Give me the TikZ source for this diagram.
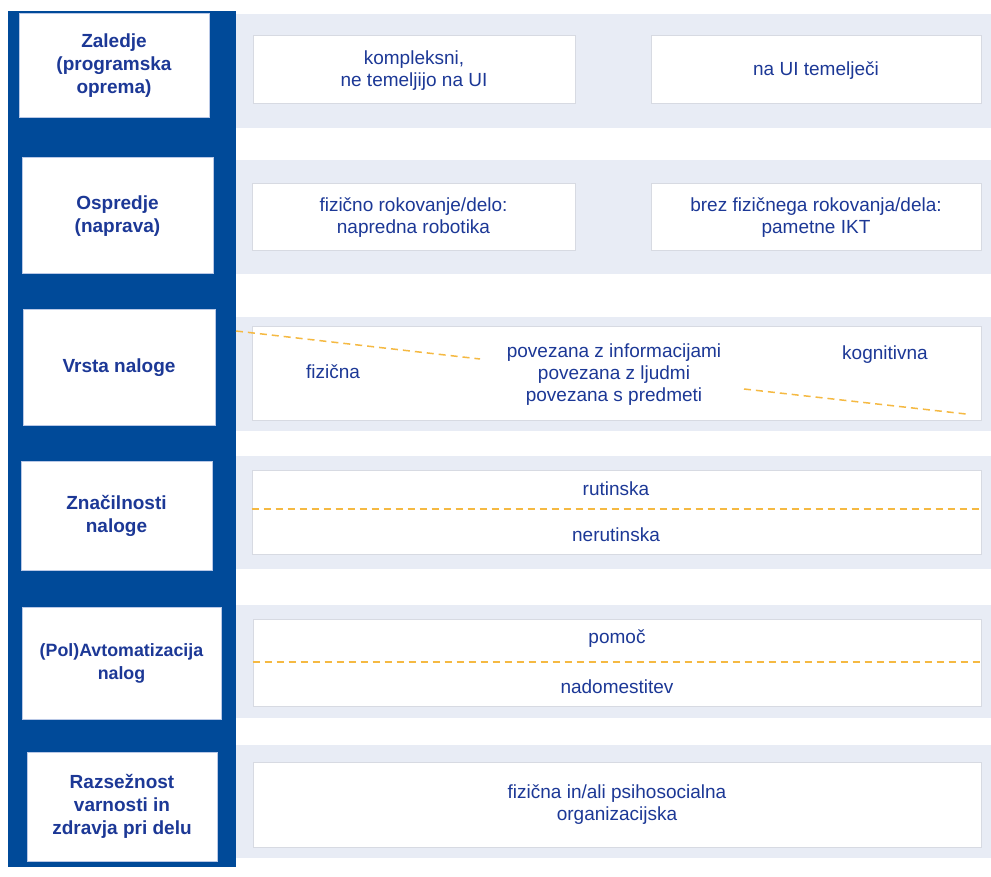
\documentclass[tikz,border=0pt]{standalone}
\usepackage{fontspec}
\setmainfont{Liberation Sans}
\definecolor{barblue}{RGB}{0,74,153}
\definecolor{txtblue}{RGB}{28,56,150}
\definecolor{bandc}{RGB}{232,236,245}
\definecolor{boxline}{RGB}{215,218,226}
\definecolor{lblline}{RGB}{185,200,230}
\definecolor{dashc}{RGB}{245,185,66}
\begin{document}
\begin{tikzpicture}[x=1pt,y=-1pt,
  lbl/.style={draw=lblline, line width=1pt, fill=white, text=txtblue, inner sep=0pt,
    font=\fontsize{19}{23}\selectfont\bfseries, align=center},
  bandbox/.style={fill=bandc, draw=none, inner sep=0pt},
  cell/.style={draw=boxline, line width=1pt, fill=white, inner sep=0pt},
  txt/.style={text=txtblue, font=\fontsize{19}{22}\selectfont, align=center, inner sep=0pt},
  dsh/.style={draw=dashc, line width=1.5pt, dash pattern=on 7pt off 5pt}]
\useasboundingbox (0,0) rectangle (991,877);
\fill[white] (0,0) rectangle (991,877);
% blue bar
\node[fill=barblue, inner sep=0pt, minimum width=228pt, minimum height=856pt] (bar) at (122,439) {};
% bands
\node[bandbox, minimum width=755pt, minimum height=114pt] (b1) at (613.5,71) {};
\node[bandbox, minimum width=755pt, minimum height=114pt] (b2) at (613.5,217) {};
\node[bandbox, minimum width=755pt, minimum height=114pt] (b3) at (613.5,374) {};
\node[bandbox, minimum width=755pt, minimum height=113pt] (b4) at (613.5,512.5) {};
\node[bandbox, minimum width=755pt, minimum height=113pt] (b5) at (613.5,661.5) {};
\node[bandbox, minimum width=755pt, minimum height=113pt] (b6) at (613.5,801.5) {};
% cells
\node[cell, minimum width=322pt, minimum height=68pt] (c1a) at (414,70) {};
\node[cell, minimum width=330pt, minimum height=68pt] (c1b) at (816,70) {};
\node[cell, minimum width=323pt, minimum height=67pt] (c2a) at (413.5,217.5) {};
\node[cell, minimum width=330pt, minimum height=67pt] (c2b) at (816,217.5) {};
\node[cell, minimum width=729pt, minimum height=93pt] (c3) at (616.5,373.5) {};
\node[cell, minimum width=729pt, minimum height=84pt] (c4) at (616.5,512) {};
\node[cell, minimum width=728pt, minimum height=87pt] (c5) at (617,662.5) {};
\node[cell, minimum width=728pt, minimum height=85pt] (c6) at (617,804.5) {};
% label boxes
\node[lbl, minimum width=190pt, minimum height=104pt] (l1) at (114,66) {Zaledje\\(programska\\oprema)};
\node[lbl, minimum width=191pt, minimum height=116pt] (l2) at (117.5,216) {Ospredje\\(naprava)};
\node[lbl, minimum width=192pt, minimum height=115pt] (l3) at (119,367.5) {Vrsta naloge};
\node[lbl, minimum width=191pt, minimum height=109pt] (l4) at (116.5,515.5) {Značilnosti\\naloge};
\node[lbl, minimum width=199pt, minimum height=112pt, font=\fontsize{17.8}{23}\selectfont\bfseries] (l5) at (121.5,663) {(Pol)Avtomatizacija\\nalog};
\node[lbl, minimum width=190pt, minimum height=109pt] (l6) at (122,806.5) {Razsežnost\\varnosti in\\zdravja pri delu};
% texts
\node[txt] (t1a) at (414,71) {kompleksni,\\ne temeljijo na UI};
\node[txt] (t1b) at (816,71) {na UI temelječi};
\node[txt] (t2a) at (413.5,218) {fizično rokovanje/delo:\\napredna robotika};
\node[txt] (t2b) at (816,218) {brez fizičnega rokovanja/dela:\\pametne IKT};
\node[txt] (t3a) at (333,372) {fizična};
\node[txt] (t3b) at (614,375) {povezana z informacijami\\povezana z ljudmi\\povezana s predmeti};
\node[txt] (t3c) at (885,355) {kognitivna};
\node[txt] (t4a) at (616,489) {rutinska};
\node[txt] (t4b) at (616,535) {nerutinska};
\node[txt] (t5a) at (617,639) {pomoč};
\node[txt] (t5b) at (617,687) {nadomestitev};
\node[txt] (t6) at (617,805) {fizična in/ali psihosocialna\\organizacijska};
% dashed lines
\coordinate (d1s) at (236,331);
\coordinate (d1e) at (480,359);
\coordinate (d2s) at (744,389);
\coordinate (d2e) at (966,414);
\draw[dsh] (d1s) -- (d1e);
\draw[dsh] (d2s) -- (d2e);
\draw[dsh] (c4.west |- 0,509) -- (c4.east |- 0,509);
\draw[dsh] (c5.west |- 0,662) -- (c5.east |- 0,662);
\end{tikzpicture}
\end{document}
